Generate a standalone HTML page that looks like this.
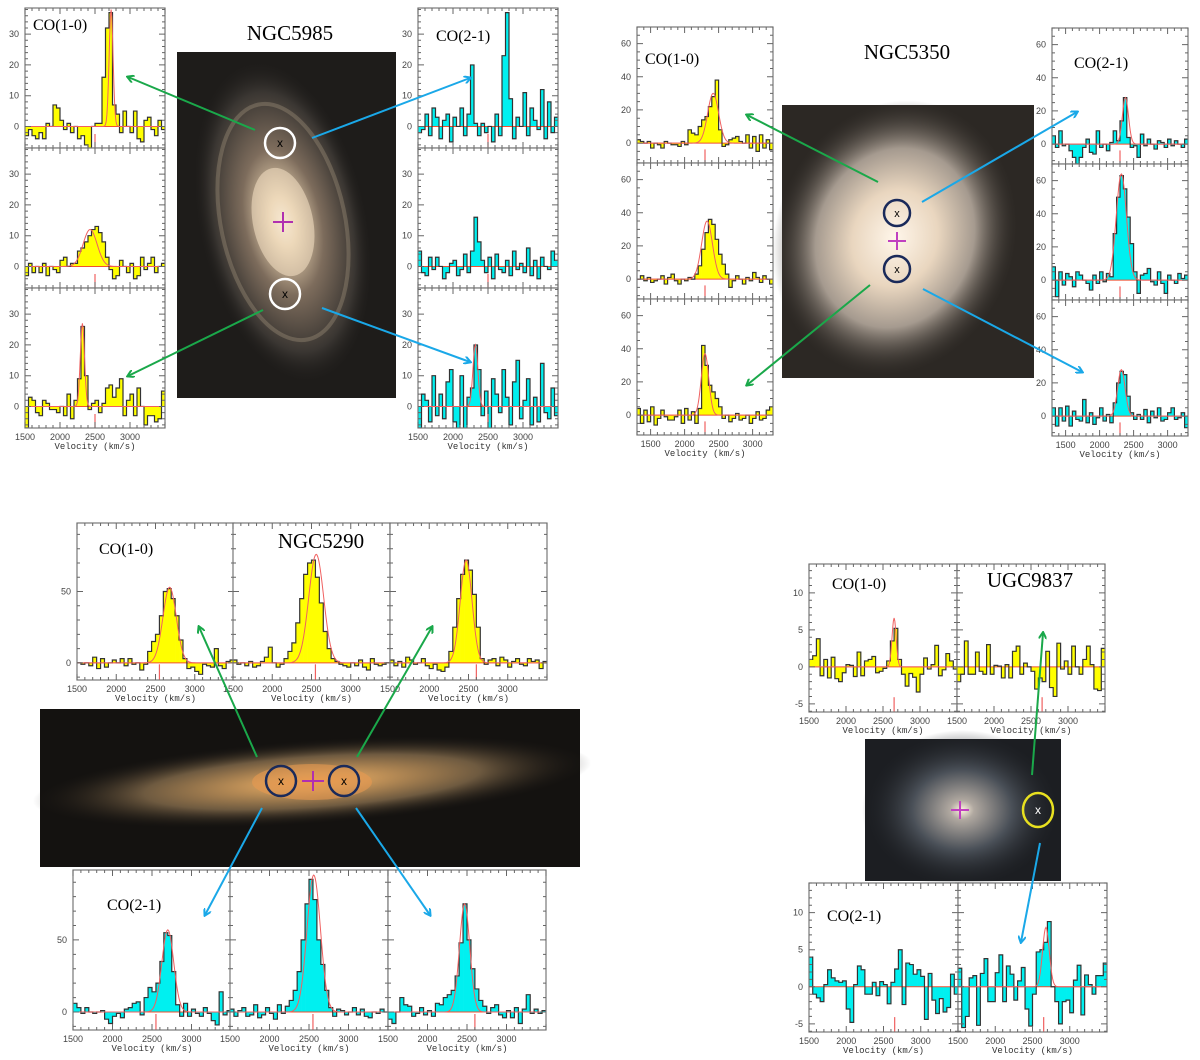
<!DOCTYPE html>
<html><head><meta charset="utf-8">
<style>
html,body{margin:0;padding:0;background:#fff;}
svg{display:block;}
.tl{font-family:"Liberation Sans",sans-serif;font-size:9px;fill:#444;}
.vl{font-family:"Liberation Mono",monospace;font-size:9px;fill:#333;}
.co{font-family:"Liberation Serif",serif;font-size:16px;fill:#000;}
.ttl{font-family:"Liberation Serif",serif;font-size:21px;fill:#000;}
</style></head>
<body>
<svg id="fig" width="1200" height="1060" viewBox="0 0 1200 1060" xmlns="http://www.w3.org/2000/svg">
<defs>
 <radialGradient id="g5985" cx="50%" cy="50%" r="50%">
  <stop offset="0" stop-color="#fff8ec"/><stop offset="0.15" stop-color="#e8d2b0"/><stop offset="0.45" stop-color="#7d6c5c"/><stop offset="0.8" stop-color="#3a3632"/><stop offset="1" stop-color="#1e1c1a" stop-opacity="0"/>
 </radialGradient>
 <radialGradient id="g5350" cx="50%" cy="50%" r="50%">
  <stop offset="0" stop-color="#fff6ea"/><stop offset="0.35" stop-color="#e9d6bf"/><stop offset="0.65" stop-color="#a59a8f"/><stop offset="1" stop-color="#3a3530" stop-opacity="0"/>
 </radialGradient>
 <radialGradient id="g5290" cx="50%" cy="50%" r="50%">
  <stop offset="0" stop-color="#f0a050"/><stop offset="0.2" stop-color="#c9975a"/><stop offset="0.6" stop-color="#6e5a40"/><stop offset="1" stop-color="#1a1714" stop-opacity="0"/>
 </radialGradient>
 <radialGradient id="g9837" cx="50%" cy="50%" r="50%">
  <stop offset="0" stop-color="#fff4e0"/><stop offset="0.12" stop-color="#b0a8a0"/><stop offset="0.5" stop-color="#4a5058"/><stop offset="1" stop-color="#1a1c20" stop-opacity="0"/>
 </radialGradient>
 <marker id="ag" markerWidth="8" markerHeight="8" refX="6" refY="4" orient="auto" markerUnits="userSpaceOnUse"><path d="M0,0 L7,4 L0,8" fill="none" stroke="#1aa84a" stroke-width="2"/></marker>
 <marker id="ab" markerWidth="8" markerHeight="8" refX="6" refY="4" orient="auto" markerUnits="userSpaceOnUse"><path d="M0,0 L7,4 L0,8" fill="none" stroke="#1aa8e8" stroke-width="2"/></marker>
</defs>

<g>
 <rect x="177" y="52" width="219" height="346" fill="#1e1c1a"/>
 <ellipse cx="283" cy="222" rx="85" ry="165" fill="url(#g5985)" transform="rotate(-12 283 222)"/>
 <ellipse cx="283" cy="222" rx="62" ry="120" fill="none" stroke="#b8a890" stroke-width="4" opacity="0.3" transform="rotate(-12 283 222)"/>
 <ellipse cx="283" cy="222" rx="30" ry="55" fill="#f0dcc0" opacity="0.6" transform="rotate(-12 283 222)"/>
 <circle cx="280" cy="143" r="15" fill="none" stroke="#fff" stroke-width="2.5"/>
 <text x="280" y="147" text-anchor="middle" font-family="Liberation Sans" font-size="12" fill="#000">x</text>
 <circle cx="285" cy="294" r="15" fill="none" stroke="#fff" stroke-width="2.5"/>
 <text x="285" y="298" text-anchor="middle" font-family="Liberation Sans" font-size="12" fill="#000">x</text>
 <path d="M283,212 v20 M273,222 h20" stroke="#b030b0" stroke-width="2"/>
</g>
<g>
 <rect x="782" y="105" width="252" height="273" fill="#2c2824"/>
 <ellipse cx="895" cy="238" rx="120" ry="140" fill="url(#g5350)" transform="rotate(20 895 238)"/>
 <circle cx="897" cy="213" r="13" fill="none" stroke="#1a2a5a" stroke-width="2.5"/>
 <text x="897" y="217" text-anchor="middle" font-family="Liberation Sans" font-size="11" fill="#000">x</text>
 <circle cx="897" cy="269" r="13" fill="none" stroke="#1a2a5a" stroke-width="2.5"/>
 <text x="897" y="273" text-anchor="middle" font-family="Liberation Sans" font-size="11" fill="#000">x</text>
 <path d="M897,232 v18 M888,241 h18" stroke="#c040c0" stroke-width="2"/>
</g>
<g>
 <rect x="40" y="709" width="540" height="158" fill="#141210"/>
 <ellipse cx="312" cy="782" rx="280" ry="42" fill="url(#g5290)" transform="rotate(-4 312 782)"/>
 <ellipse cx="312" cy="782" rx="60" ry="18" fill="#e89a50" opacity="0.6"/>
 <circle cx="281" cy="781" r="15" fill="none" stroke="#1a2a5a" stroke-width="2.5"/>
 <text x="281" y="785" text-anchor="middle" font-family="Liberation Sans" font-size="12" fill="#000">x</text>
 <circle cx="344" cy="781" r="15" fill="none" stroke="#1a2a5a" stroke-width="2.5"/>
 <text x="344" y="785" text-anchor="middle" font-family="Liberation Sans" font-size="12" fill="#000">x</text>
 <path d="M313,771 v20 M302,781 h22" stroke="#b030b0" stroke-width="2"/>
</g>
<g>
 <rect x="865" y="739" width="196" height="142" fill="#1c1e22"/>
 <ellipse cx="962" cy="810" rx="100" ry="80" fill="url(#g9837)"/>
 <ellipse cx="1038" cy="810" rx="15" ry="17" fill="none" stroke="#e8e020" stroke-width="2.5"/>
 <text x="1038" y="814" text-anchor="middle" font-family="Liberation Sans" font-size="12" fill="#fff">x</text>
 <path d="M960,801 v18 M951,810 h18" stroke="#c040c0" stroke-width="2"/>
</g>

<g id="panels"></g>

<g stroke-width="2" fill="none">
 <line x1="255" y1="130" x2="128" y2="77" stroke="#1aa84a" marker-end="url(#ag)"/>
 <line x1="263" y1="310" x2="128" y2="376" stroke="#1aa84a" marker-end="url(#ag)"/>
 <line x1="312" y1="138" x2="470" y2="78" stroke="#1aa8e8" marker-end="url(#ab)"/>
 <line x1="322" y1="308" x2="470" y2="362" stroke="#1aa8e8" marker-end="url(#ab)"/>
 <line x1="878" y1="182" x2="747" y2="115" stroke="#1aa84a" marker-end="url(#ag)"/>
 <line x1="870" y1="285" x2="747" y2="385" stroke="#1aa84a" marker-end="url(#ag)"/>
 <line x1="922" y1="202" x2="1077" y2="112" stroke="#1aa8e8" marker-end="url(#ab)"/>
 <line x1="923" y1="289" x2="1082" y2="372" stroke="#1aa8e8" marker-end="url(#ab)"/>
 <line x1="257" y1="757" x2="199" y2="627" stroke="#1aa84a" marker-end="url(#ag)"/>
 <line x1="357" y1="757" x2="432" y2="627" stroke="#1aa84a" marker-end="url(#ag)"/>
 <line x1="262" y1="808" x2="205" y2="915" stroke="#1aa8e8" marker-end="url(#ab)"/>
 <line x1="356" y1="808" x2="430" y2="915" stroke="#1aa8e8" marker-end="url(#ab)"/>
 <line x1="1032" y1="775" x2="1043" y2="633" stroke="#1aa84a" marker-end="url(#ag)"/>
 <line x1="1040" y1="843" x2="1021" y2="942" stroke="#1aa8e8" marker-end="url(#ab)"/>
</g>

<text class="ttl" x="290" y="40" text-anchor="middle">NGC5985</text>
<text class="ttl" x="907" y="59" text-anchor="middle">NGC5350</text>
<text class="ttl" x="321" y="548" text-anchor="middle">NGC5290</text>
<text class="ttl" x="1030" y="587" text-anchor="middle">UGC9837</text>
<text class="co" x="33" y="30">CO(1-0)</text>
<text class="co" x="436" y="41">CO(2-1)</text>
<text class="co" x="645" y="64">CO(1-0)</text>
<text class="co" x="1074" y="68">CO(2-1)</text>
<text class="co" x="99" y="554">CO(1-0)</text>
<text class="co" x="107" y="910">CO(2-1)</text>
<text class="co" x="832" y="589">CO(1-0)</text>
<text class="co" x="827" y="921">CO(2-1)</text>
</svg>

<script>
const ngc5985_co10_n = [-3,-1,-3,-4,-2,-4,1,0,7,6,2,-1,1,-2,0,-4,-3,-6,-9,0,1,1,16,32,37,7,4,-2,5,0,-2,5,-4,-5,2,3,-1,-3,2,-1];
const ngc5985_co10_c = [-3,1,-2,0,-2,1,-3,0,-1,-2,2,3,0,1,1,5,6,8,10,12,13,11,8,3,-1,-4,-3,2,0,-2,1,-4,-3,3,-1,1,3,-2,0,1];
const ngc5985_co10_s = [-7,3,2,-2,-3,2,1,-1,-1,-2,0,-3,4,-4,2,9,26,10,-1,1,2,-2,1,6,7,3,6,9,-3,2,4,-3,6,0,-6,-3,-3,-5,-4,5];
const ngc5985_co21_n = [-2,-1,4,-3,6,3,-4,2,4,-5,3,0,6,-3,4,20,1,-3,1,-2,0,-5,4,-3,23,37,9,-4,3,0,11,-3,6,2,-1,12,-4,8,-2,3];
const ngc5985_co21_c = [5,-2,-3,3,-1,3,0,-4,-2,1,2,-3,-1,4,-2,5,16,8,2,-2,3,-4,4,-1,-2,2,-3,5,-1,1,-2,6,-3,2,-4,3,0,-1,5,2];
const ngc5985_co21_s = [-7,4,2,-5,10,-3,4,-4,8,12,-5,-10,10,-8,3,6,20,12,-3,5,-8,9,4,-2,12,3,-6,8,15,-4,2,9,-6,3,-5,14,-2,-4,6,-3];
const ngc5350_co10_n = [2,1,0,1,-3,0,-1,-3,1,0,-1,-1,-2,1,-1,8,6,5,10,14,16,22,28,38,8,-2,-1,2,3,4,1,0,5,-3,4,-5,5,-3,2,-4];
const ngc5350_co10_c = [0,2,-1,1,-2,-1,0,2,-3,1,3,-1,-3,0,-1,1,0,3,8,18,28,36,33,24,15,9,3,-5,-1,2,0,-3,1,-1,4,1,-2,2,0,-3];
const ngc5350_co10_s = [4,-5,3,-4,5,-6,-2,3,-1,-3,-3,-1,3,-5,4,-3,2,-5,4,42,30,18,14,10,5,-2,0,-4,-2,1,-3,-2,0,-5,-2,2,-3,-2,3,5];
const ngc5350_co21_n = [5,-2,8,-1,0,-4,-8,-12,-8,-2,3,-5,-6,8,-2,0,-4,1,8,2,14,28,4,-2,-1,-8,6,-1,3,0,-3,2,1,-2,3,-1,2,0,-2,3];
const ngc5350_co21_c = [8,-10,5,-3,4,2,-4,5,3,0,-2,-6,3,-2,5,-1,4,2,28,50,63,55,38,22,5,-8,3,4,7,-1,-3,5,-2,-8,3,0,-2,4,1,3];
const ngc5350_co21_s = [5,-6,5,-3,6,-6,3,-2,-3,10,-4,2,-5,-1,5,-3,1,-4,8,20,27,25,12,2,-2,1,-2,4,-4,3,-1,5,-3,-2,2,5,-2,-1,2,-7];
const ngc5290_co10_a = [0,-1,0,-2,4,-4,3,-3,0,2,0,3,-2,3,-1,0,-5,-1,8,15,20,33,50,52,45,33,16,3,-4,-3,-6,-8,-1,-2,-3,10,-2,-4,1,2];
const ngc5290_co10_b = [2,-1,0,-2,1,-3,-2,1,4,11,0,-3,-1,3,8,14,28,45,62,70,72,60,42,22,10,3,1,-1,-2,-3,0,-2,2,-3,-5,3,-1,-2,-1,0];
const ngc5290_co10_c = [2,-2,1,-3,4,2,-1,0,3,-2,-4,-1,-5,-6,-3,8,25,45,62,72,65,48,25,3,-1,2,3,-2,4,2,-3,1,3,-1,-2,3,1,2,-4,1];
const ngc5290_co21_a = [6,3,-1,3,0,-1,0,1,-5,-8,-3,-1,-4,2,3,6,7,-2,10,17,14,20,35,55,53,28,5,-3,6,-3,2,-1,-3,3,-1,-6,-9,14,-2,1];
const ngc5290_co21_b = [2,-3,1,3,-3,-2,5,-4,-2,3,-1,-5,5,-1,4,8,15,28,50,75,92,78,50,33,15,3,-3,2,1,-2,0,3,-2,2,-3,-4,0,-1,2,0];
const ngc5290_co21_c = [-5,-8,0,10,5,4,-3,-1,3,-2,1,-3,6,5,10,12,15,25,48,75,50,30,16,8,4,-1,3,5,-2,-4,1,-4,3,-8,2,12,-1,2,-1,1];
const ugc9837_co10_a = [1,1.5,3.8,-1.2,1,-1.5,1.3,-1.6,-2,-0.8,0.3,0.2,-1.3,2,-1.2,0.8,1,1.4,-0.8,-0.6,-0.2,0.8,3.5,5.2,1,-1,-2.6,-0.9,-1.4,-3.4,-1,1.2,-0.3,0.3,2.9,-1.2,-0.4,1.8,0.8,-0.3];
const ugc9837_co10_b = [-2,-1,3.5,-1,-1,2,-0.6,-1,3,-1,0.2,0.1,-1.5,0.3,-1.5,2.1,2.8,-1,0.5,0,-0.6,-3,-1.5,-2,2.1,-2.8,-4,3.2,-0.3,0.8,-1,2.8,0,-1,1,2.8,0.3,-3,-3.2,2.5];
const ugc9837_co21_a = [4,-1,-1.5,-2,0.3,2.3,1.2,0.8,0.6,0.8,-3,-4.8,0.3,2.8,2.3,-1,-1,0.6,-1.2,0.7,0.3,-2.3,0.6,2.4,5,-2.4,3.2,3,1.7,2.3,1.4,-4.4,1.8,-1.8,-3.6,-1.6,-3.4,-2.8,1.7,-1];
const ugc9837_co21_b = [2.5,-5.5,-4,1.2,1.5,-5.2,1.8,3.8,-2,-2,1.9,4.3,-2,2.8,1.7,-1.8,0.8,2.6,-3,-5.3,-1,4.7,5,6,8.8,0,-2,-5,-2,-1.8,-3.5,0.9,2.9,-3.8,1.6,0.3,-1,1.5,1.5,3.2];
const fits5985 = [[38,2730,28],[12,2430,100],[27,2320,30],[0,2500,50],[0,2500,50],[20,2320,35]];
const fits5350 = [[30,2420,80],[35,2330,80],[37,2300,55],[28,2380,45],[64,2320,75],[28,2320,55]];
const fits5290 = [[53,2680,85],[76,2560,95],[72,2470,75],[57,2700,75],[95,2560,85],[75,2470,65]];
const fits9837 = [[6.6,2650,28],[0,2650,30],[0,2650,30],[8,2680,45]];
const xTickLabels = [1500,2000,2500,3000];

const NS='http://www.w3.org/2000/svg';
const root=document.getElementById('panels');
function mk(tag, parent){const e=document.createElementNS(NS,tag);parent.appendChild(e);return e;}
let clipN=0;
function panel(c){
  const g=mk('g',root);
  
  
  const sx=v=>c.x+(v-c.xmin)/(c.xmax-c.xmin)*c.w;
  const sy=v=>c.y+(c.ymax-v)/(c.ymax-c.ymin)*c.h;
  const bg=mk('rect',g);bg.setAttribute('x',c.x);bg.setAttribute('y',c.y);bg.setAttribute('width',c.w);bg.setAttribute('height',c.h);bg.setAttribute('fill','#fff');
  const cid='cp'+(clipN++);
  const cp=mk('clipPath',g);cp.setAttribute('id',cid);
  const cr=mk('rect',cp);cr.setAttribute('x',c.x);cr.setAttribute('y',c.y);cr.setAttribute('width',c.w);cr.setAttribute('height',c.h);
  const inner=mk('g',g);inner.setAttribute('clip-path','url(#'+cid+')');
  const n=c.vals.length, dw=(c.xmax-c.xmin)/n, y0=sy(0);
  c.vals.forEach((v,i)=>{
    const r=mk('rect',inner);
    
    
    const a=sx(c.xmin+i*dw), b=sx(c.xmin+(i+1)*dw);
    r.setAttribute('x',a);r.setAttribute('width',b-a+0.3);
    r.setAttribute('y',Math.min(y0,sy(v)));r.setAttribute('height',Math.abs(sy(v)-y0));
    r.setAttribute('fill',c.color);
  });
  const bl=mk('line',inner);bl.setAttribute('x1',c.x);bl.setAttribute('x2',c.x+c.w);bl.setAttribute('y1',y0);bl.setAttribute('y2',y0);bl.setAttribute('stroke','#f05030');bl.setAttribute('stroke-width','1');
  let d='';
  c.vals.forEach((v,i)=>{const a=sx(c.xmin+i*dw),b=sx(c.xmin+(i+1)*dw),yy=sy(v);d+=(i?'L':'M')+a+','+yy+'L'+b+','+yy;});
  const st=mk('path',inner);
  
  
  st.setAttribute('d',d);st.setAttribute('fill','none');st.setAttribute('stroke','#333');st.setAttribute('stroke-width','1.2');
  if(c.fit && c.fit[0]>0){
    let fd='';
    for(let v=c.xmin;v<=c.xmax;v+=10){const f=c.fit[0]*Math.exp(-0.5*Math.pow((v-c.fit[1])/c.fit[2],2));fd+=(v===c.xmin?'M':'L')+sx(v)+','+sy(f);}
    const fp=mk('path',inner);
    
    
    fp.setAttribute('d',fd);fp.setAttribute('fill','none');fp.setAttribute('stroke','#f06060');fp.setAttribute('stroke-width','1');
  }
  const sm=mk('line',inner);
  
  
  sm.setAttribute('x1',sx(c.sys));sm.setAttribute('x2',sx(c.sys));sm.setAttribute('y1',c.y+c.h);sm.setAttribute('y2',c.y+c.h-c.h*0.1);sm.setAttribute('stroke','#f06060');sm.setAttribute('stroke-width','1.2');
  const fr=mk('rect',g);
  
  
  fr.setAttribute('x',c.x);fr.setAttribute('y',c.y);fr.setAttribute('width',c.w);fr.setAttribute('height',c.h);fr.setAttribute('fill','none');fr.setAttribute('stroke','#777');fr.setAttribute('stroke-width','1.2');
  let td='';
  const x0=Math.ceil(c.xmin/100)*100;
  for(let v=x0;v<=c.xmax;v+=100){const L=(v%500===0)?6:3;const X=sx(v);td+='M'+X+','+(c.y+c.h)+'v-'+L+'M'+X+','+c.y+'v'+L;}
  for(let v=Math.ceil(c.ymin/c.yminor)*c.yminor;v<=c.ymax;v+=c.yminor){const maj=Math.abs(v/c.ymajor-Math.round(v/c.ymajor))<1e-6;const L=maj?6:3;const Y=sy(v);td+='M'+c.x+','+Y+'h'+L+'M'+(c.x+c.w)+','+Y+'h-'+L;}
  const tp=mk('path',g);tp.setAttribute('d',td);tp.setAttribute('stroke','#666');tp.setAttribute('stroke-width','1');
  if(c.yl){
    for(let v=Math.ceil(c.ymin/c.ymajor)*c.ymajor;v<=c.ymax;v+=c.ymajor){
      const t=mk('text',g);
      
      
      t.setAttribute('class','tl');t.setAttribute('x',c.x-6);t.setAttribute('y',sy(v)+3);t.setAttribute('text-anchor','end');t.textContent=v;
    }
  }
  if(c.xl){
    xTickLabels.forEach(v=>{
      if(v<c.xmin||v>c.xmax)return;
      const t=mk('text',g);
      
      
      t.setAttribute('class','tl');t.setAttribute('x',sx(v));t.setAttribute('y',c.y+c.h+12);t.setAttribute('text-anchor','middle');t.textContent=v;
    });
    const t=mk('text',g);
    
    
    t.setAttribute('class','vl');t.setAttribute('x',c.x+c.w/2);t.setAttribute('y',c.y+c.h+21);t.setAttribute('text-anchor','middle');t.textContent='Velocity (km/s)';
  }
}
const Y='#ffff00', C='#00f0f0';
[[ngc5985_co10_n,8],[ngc5985_co10_c,148],[ngc5985_co10_s,288]].forEach((a,i)=>panel({name:'ngc5985-co10-panel-'+(i+1),x:25,y:a[1],w:140,h:140,xmin:1500,xmax:3500,ymin:-7,ymax:38.5,ymajor:10,yminor:2,vals:a[0],color:Y,fit:fits5985[i],sys:2500,yl:true,xl:i===2}));
[[ngc5985_co21_n,8],[ngc5985_co21_c,148],[ngc5985_co21_s,288]].forEach((a,i)=>panel({name:'ngc5985-co21-panel-'+(i+1),x:418,y:a[1],w:140,h:140,xmin:1500,xmax:3500,ymin:-7,ymax:38.5,ymajor:10,yminor:2,vals:a[0],color:C,fit:fits5985[i+3],sys:2500,yl:true,xl:i===2}));
[[ngc5350_co10_n,27],[ngc5350_co10_c,163],[ngc5350_co10_s,299]].forEach((a,i)=>panel({name:'ngc5350-co10-panel-'+(i+1),x:637,y:a[1],w:136,h:136,xmin:1300,xmax:3300,ymin:-12,ymax:70,ymajor:20,yminor:5,vals:a[0],color:Y,fit:fits5350[i],sys:2300,yl:true,xl:i===2}));
[[ngc5350_co21_n,28],[ngc5350_co21_c,164],[ngc5350_co21_s,300]].forEach((a,i)=>panel({name:'ngc5350-co21-panel-'+(i+1),x:1052,y:a[1],w:136,h:136,xmin:1300,xmax:3300,ymin:-12,ymax:70,ymajor:20,yminor:5,vals:a[0],color:C,fit:fits5350[i+3],sys:2300,yl:true,xl:i===2}));
[[ngc5290_co10_a,77],[ngc5290_co10_b,233],[ngc5290_co10_c,390]].forEach((a,i)=>panel({name:'ngc5290-co10-panel-'+(i+1),x:a[1],y:523,w:157,h:157,xmin:1500,xmax:3500,ymin:-12,ymax:98,ymajor:50,yminor:10,vals:a[0],color:Y,fit:fits5290[i],sys:[2550,2550,2600][i],yl:i===0,xl:true}));
[[ngc5290_co21_a,73],[ngc5290_co21_b,230],[ngc5290_co21_c,388]].forEach((a,i)=>panel({name:'ngc5290-co21-panel-'+(i+1),x:a[1],y:870,w:158,h:160,xmin:1500,xmax:3500,ymin:-12.5,ymax:98.5,ymajor:50,yminor:10,vals:a[0],color:C,fit:fits5290[i+3],sys:[2550,2550,2600][i],yl:i===0,xl:true}));
[[ugc9837_co10_a,809],[ugc9837_co10_b,957]].forEach((a,i)=>panel({name:'ugc9837-co10-panel-'+(i+1),x:a[1],y:564,w:148,h:148,xmin:1500,xmax:3500,ymin:-6.1,ymax:13.9,ymajor:5,yminor:1,vals:a[0],color:Y,fit:fits9837[i],sys:2650,yl:i===0,xl:true}));
[[ugc9837_co21_a,809],[ugc9837_co21_b,958]].forEach((a,i)=>panel({name:'ugc9837-co21-panel-'+(i+1),x:a[1],y:883,w:149,h:149,xmin:1500,xmax:3500,ymin:-6.1,ymax:14,ymajor:5,yminor:1,vals:a[0],color:C,fit:fits9837[i+2],sys:2650,yl:i===0,xl:true}));
</script>
</body></html>
